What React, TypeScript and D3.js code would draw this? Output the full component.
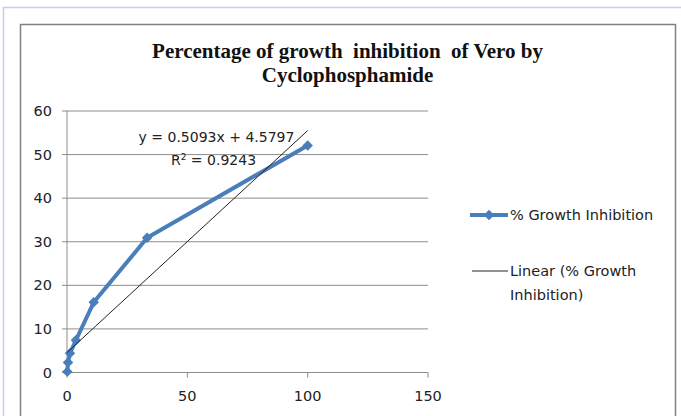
import React from "react";
import * as d3 from "d3";

const concentrations = [0.137, 0.41, 1.23, 3.7, 11.1, 33.3, 100];
const inhibition = [0.2, 2.3, 4.4, 7.4, 16.1, 30.9, 52.1];
const xTicks = [0, 50, 100, 150];
const yTicks = [0, 10, 20, 30, 40, 50, 60];
const trendSlope = 0.5093;
const trendIntercept = 4.5797;
const trendRange = [0, 100];
const titleLines = ["Percentage of growth  inhibition  of Vero by", "Cyclophosphamide"];
const seriesName = "% Growth Inhibition";
const trendNameLines = ["Linear (% Growth", "Inhibition)"];
const equationText = "y = 0.5093x + 4.5797";
const r2Value = "0.9243";

export default function App() {
  const W = 681, H = 416;
  const x = d3.scaleLinear().domain([0, 150]).range([67, 428]);
  const y = d3.scaleLinear().domain([0, 60]).range([372.5, 111]);
  const blue = "#4a7ebb";
  const grid = "#8c8c8c";
  const sans = "'DejaVu Sans', Verdana, sans-serif";
  const fs = 14.5;

  const line = d3.line<number>()
    .x((_, i) => x(concentrations[i]))
    .y((d) => y(d));
  const pts = inhibition;
  const diamond = d3.symbol().type(d3.symbolDiamond2 || d3.symbolDiamond).size(70)();

  return (
    <svg width={W} height={H} style={{ position: "absolute", left: 0, top: 0, background: "#fff" }}>
      {/* outer frame */}
      <line x1={3} y1={7.5} x2={W} y2={7.5} stroke="#c9c9f2" strokeWidth={1.5} />
      <line x1={3.5} y1={7} x2={3.5} y2={H} stroke="#c9c9f2" strokeWidth={1.5} />
      <rect x={20.5} y={24.5} width={655} height={420} fill="#fff" stroke="#808080" strokeWidth={1.5} />

      {/* title */}
      {titleLines.map((t, i) => (
        <text key={i} x={347.5} y={58 + i * 24} textAnchor="middle"
          style={{ fontFamily: "'Liberation Serif', 'Times New Roman', serif", fontWeight: "bold", fontSize: 21, whiteSpace: "pre" }}
          fill="#111">{t}</text>
      ))}

      {/* gridlines */}
      {yTicks.filter((t) => t > 0).map((t) => (
        <line key={t} x1={x(0)} x2={x(150)} y1={y(t)} y2={y(t)} stroke={grid} strokeWidth={1} />
      ))}
      {/* axes */}
      <line x1={x(0)} x2={x(0)} y1={y(60)} y2={y(0)} stroke={grid} strokeWidth={1} />
      <line x1={x(0)} x2={x(150)} y1={y(0)} y2={y(0)} stroke={grid} strokeWidth={1} />
      {yTicks.map((t) => (
        <g key={t}>
          <line x1={x(0) - 5} x2={x(0)} y1={y(t)} y2={y(t)} stroke={grid} strokeWidth={1} />
          <text x={52} y={y(t)} dy="0.35em" textAnchor="end" fontFamily={sans} fontSize={fs} fill="#222">{t}</text>
        </g>
      ))}
      {xTicks.map((t) => (
        <g key={t}>
          <line x1={x(t)} x2={x(t)} y1={y(0)} y2={y(0) + 5} stroke={grid} strokeWidth={1} />
          <text x={x(t)} y={396} dy="0.35em" textAnchor="middle" fontFamily={sans} fontSize={fs} fill="#222">{t}</text>
        </g>
      ))}

      {/* series */}
      <path d={line(pts) || ""} fill="none" stroke={blue} strokeWidth={4} strokeLinejoin="round" />
      {pts.map((d, i) => (
        <path key={i} d={diamond || ""} transform={`translate(${x(concentrations[i])},${y(d)})`} fill={blue} />
      ))}

      {/* trendline */}
      <line x1={x(trendRange[0])} y1={y(trendSlope * trendRange[0] + trendIntercept)}
        x2={x(trendRange[1])} y2={y(trendSlope * trendRange[1] + trendIntercept)}
        stroke="#222" strokeWidth={1} />

      {/* equation */}
      <text x={216.5} y={137} dy="0.35em" textAnchor="middle" fontFamily={sans} fontSize={14} fill="#222">{equationText}</text>
      <text x={213.5} y={160} dy="0.35em" textAnchor="middle" fontFamily={sans} fontSize={14} fill="#222">
        R<tspan dy="-5" fontSize={9}>2</tspan><tspan dy="5"> = {r2Value}</tspan>
      </text>

      {/* legend */}
      <line x1={470} x2={508} y1={215} y2={215} stroke={blue} strokeWidth={4} />
      <path d={diamond || ""} transform="translate(489,215)" fill={blue} />
      <text x={510} y={215} dy="0.35em" fontFamily={sans} fontSize={fs} fill="#222">{seriesName}</text>
      <line x1={472} x2={508} y1={271} y2={271} stroke="#222" strokeWidth={1} />
      {trendNameLines.map((t, i) => (
        <text key={i} x={510} y={271 + i * 24} dy="0.35em" fontFamily={sans} fontSize={fs} fill="#222">{t}</text>
      ))}
    </svg>
  );
}
